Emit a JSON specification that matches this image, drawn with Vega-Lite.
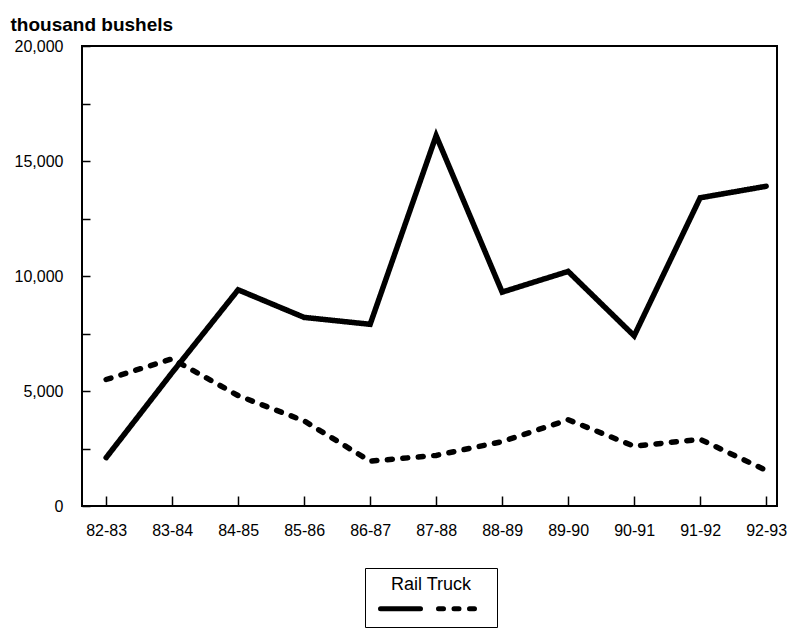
{
  "$schema": "https://vega.github.io/schema/vega-lite/v6.json",
  "width": 695,
  "height": 460,
  "autosize": {"type": "none"},
  "padding": {"left": 82, "top": 46, "right": 14, "bottom": 124},
  "background": "white",
  "config": {
    "view": {"stroke": "black", "strokeWidth": 2},
    "font": "Liberation Sans",
    "axis": {
      "domain": false,
      "grid": false,
      "tickColor": "black",
      "tickWidth": 1.5,
      "labelColor": "black",
      "labelFont": "Liberation Sans",
      "labelFontSize": 16,
      "titleColor": "black"
    }
  },
  "data": {
    "values": [
      {"season": "82-83", "mode": "Rail", "bushels": 2100},
      {"season": "83-84", "mode": "Rail", "bushels": 5800},
      {"season": "84-85", "mode": "Rail", "bushels": 9400},
      {"season": "85-86", "mode": "Rail", "bushels": 8200},
      {"season": "86-87", "mode": "Rail", "bushels": 7900},
      {"season": "87-88", "mode": "Rail", "bushels": 16100},
      {"season": "88-89", "mode": "Rail", "bushels": 9300},
      {"season": "89-90", "mode": "Rail", "bushels": 10200},
      {"season": "90-91", "mode": "Rail", "bushels": 7400},
      {"season": "91-92", "mode": "Rail", "bushels": 13400},
      {"season": "92-93", "mode": "Rail", "bushels": 13900},
      {"season": "82-83", "mode": "Truck", "bushels": 5500},
      {"season": "83-84", "mode": "Truck", "bushels": 6400},
      {"season": "84-85", "mode": "Truck", "bushels": 4800},
      {"season": "85-86", "mode": "Truck", "bushels": 3700},
      {"season": "86-87", "mode": "Truck", "bushels": 1950},
      {"season": "87-88", "mode": "Truck", "bushels": 2200},
      {"season": "88-89", "mode": "Truck", "bushels": 2800},
      {"season": "89-90", "mode": "Truck", "bushels": 3750},
      {"season": "90-91", "mode": "Truck", "bushels": 2600},
      {"season": "91-92", "mode": "Truck", "bushels": 2900},
      {"season": "92-93", "mode": "Truck", "bushels": 1550}
    ]
  },
  "mark": {"type": "line", "color": "black", "strokeWidth": 5.5, "strokeCap": "round", "strokeJoin": "miter"},
  "encoding": {
    "x": {
      "field": "season",
      "type": "ordinal",
      "scale": {"type": "point", "padding": 0.265, "align": 0.69},
      "axis": {
        "title": null,
        "labelAngle": 0,
        "tickSize": -10,
        "labelPadding": 26
      }
    },
    "y": {
      "field": "bushels",
      "type": "quantitative",
      "scale": {"domain": [0, 20000], "nice": false},
      "axis": {
        "values": [0, 2500, 5000, 7500, 10000, 12500, 15000, 17500, 20000],
        "labelExpr": "datum.value % 5000 === 0 ? format(datum.value, ',') : ''",
        "tickSize": -8,
        "labelPadding": 27,
        "title": "thousand bushels",
        "titleAngle": 0,
        "titleX": -72,
        "titleY": -16,
        "titleAlign": "left",
        "titleBaseline": "alphabetic",
        "titleFont": "Liberation Sans",
        "titleFontSize": 19,
        "titleFontWeight": "bold"
      }
    },
    "strokeDash": {
      "field": "mode",
      "type": "nominal",
      "scale": {"domain": ["Rail", "Truck"], "range": [[1, 0], [5, 10.5]]},
      "legend": {
        "title": "Rail Truck",
        "titleFont": "Liberation Sans",
        "titleFontSize": 18,
        "titleFontWeight": "normal",
        "titleColor": "black",
        "titleAnchor": "middle",
        "titlePadding": -8,
        "direction": "horizontal",
        "orient": "none",
        "legendX": 283,
        "legendY": 522,
        "padding": 8,
        "strokeColor": "black",
        "fillColor": "white",
        "symbolType": "stroke",
        "symbolSize": 1600,
        "symbolOffset": 5,
        "symbolStrokeWidth": 5,
        "symbolStrokeColor": "black",
        "labelExpr": "''",
        "labelFontSize": 1,
        "labelOffset": 0,
        "columnPadding": -17,
        "encode": {"symbols": {"update": {"strokeCap": {"value": "round"}}}}
      }
    }
  }
}
